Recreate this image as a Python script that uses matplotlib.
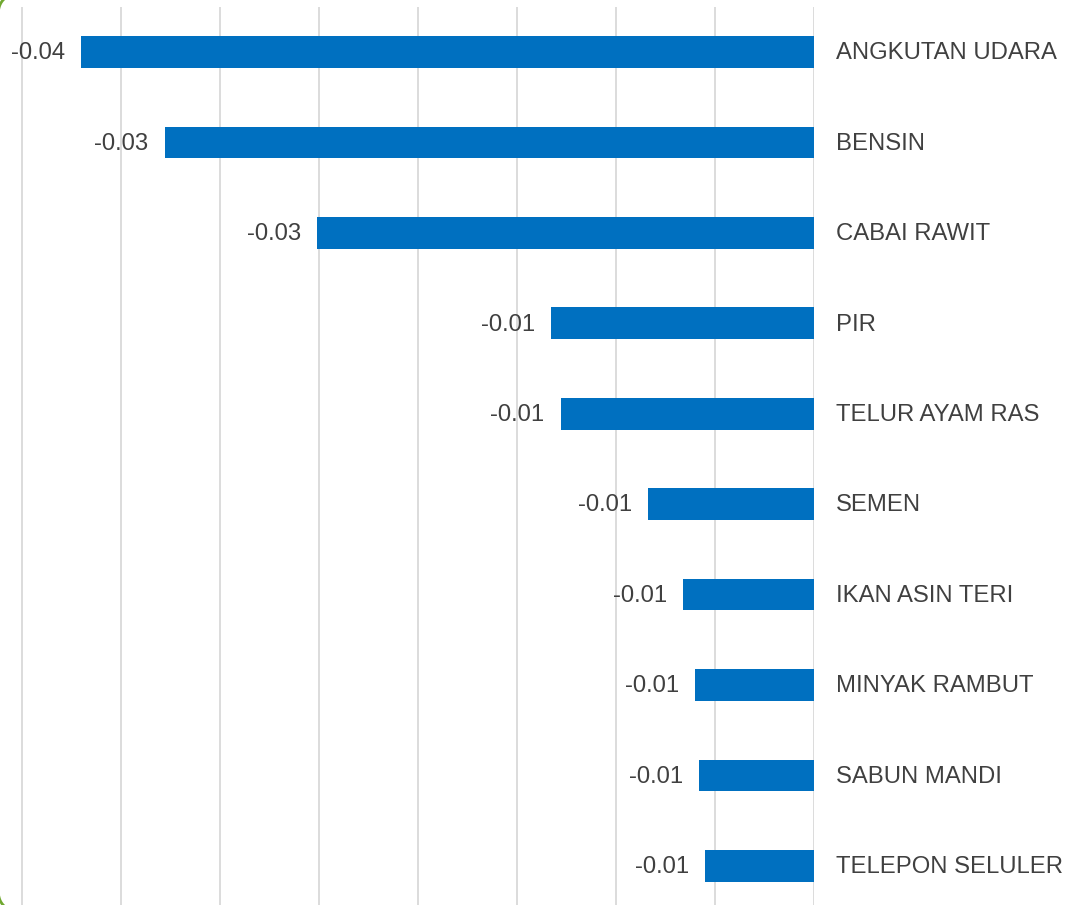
import numpy as np
import matplotlib.pyplot as plt

# Data
categories = ['ANGKUTAN UDARA', 'BENSIN', 'CABAI RAWIT', 'PIR', 'TELUR AYAM RAS',
              'SEMEN', 'IKAN ASIN TERI', 'MINYAK RAMBUT', 'SABUN MANDI', 'TELEPON SELULER']
values = [-0.0370, -0.0328, -0.0251, -0.0133, -0.0128,
          -0.0084, -0.0066, -0.0060, -0.0058, -0.0055]

BAR_COLOR = '#0070C0'
TEXT_COLOR = '#404040'
GRID_COLOR = '#D9D9D9'
FRAME_COLOR = '#70A830'

plt.rcParams['font.family'] = ['Liberation Sans', 'DejaVu Sans']

fig = plt.figure(figsize=(10.66, 9.05), dpi=100)
W, H = 1066, 905
ax = fig.add_axes([0, 0, 814 / W, (905 - 6.8) / H])

y = list(range(len(categories)))
ax.barh(y, values, height=0.35, color=BAR_COLOR, zorder=3)

ax.set_xlim(-0.04111, 0)
ax.set_ylim(len(categories) - 0.5 - (911 - 905) / 90.4, -0.5)
ax.set_xticks([-0.04 + 0.005 * i for i in range(9)])
ax.grid(axis='x', color=GRID_COLOR, linewidth=1.3, zorder=0)
ax.tick_params(left=False, bottom=False, labelleft=False, labelbottom=False)
for s in ax.spines.values():
    s.set_visible(False)

for yi, v, name in zip(y, values, categories):
    ax.annotate(f'{v:.2f}', (v, yi), xytext=(-11.5, -1), textcoords='offset points',
                ha='right', va='center', fontsize=17.2, color=TEXT_COLOR)
    ax.annotate(name, (0, yi), xytext=(16, -1), textcoords='offset points',
                ha='left', va='center', fontsize=17.2, color=TEXT_COLOR,
                annotation_clip=False)

# green rounded frame corners, on a pixel-unit overlay
over = fig.add_axes([0, 0, 1, 1], zorder=5)
over.set_xlim(0, W)
over.set_ylim(0, H)
over.axis('off')
over.patch.set_alpha(0)
r, left, top, bottom = 18, -1.5, H + 6, -6
t = np.linspace(0, np.pi / 2, 30)
over.plot(left + r - r * np.cos(t), top - r + r * np.sin(t),
          color=FRAME_COLOR, lw=2.0, clip_on=False)
over.plot(left + r - r * np.cos(t), bottom + r - r * np.sin(t),
          color=FRAME_COLOR, lw=2.0, clip_on=False)

fig.savefig('out.png', dpi=100)
